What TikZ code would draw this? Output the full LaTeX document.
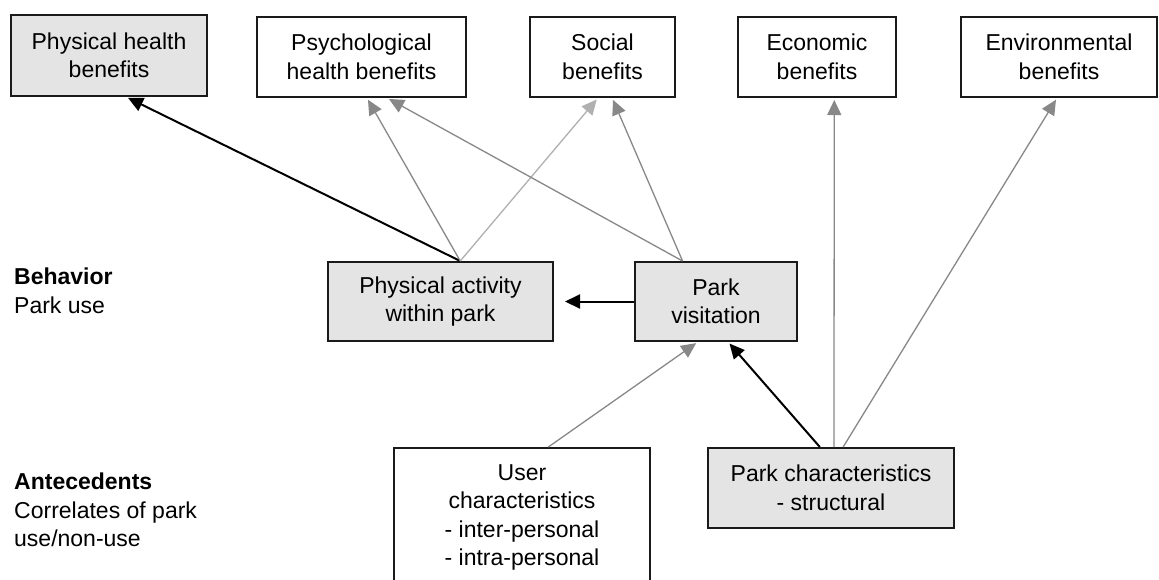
\documentclass[tikz,border=0pt]{standalone}
\usepackage{fontspec}
\setmainfont{Liberation Sans}
\usetikzlibrary{arrows.meta,calc}
\definecolor{boxfill}{HTML}{E4E4E4}
\definecolor{boxline}{HTML}{1A1A1A}
\definecolor{midgray}{HTML}{888888}
\definecolor{lightgray}{HTML}{B0B0B0}
\tikzset{
  txt/.style={font=\fontsize{23}{28.5}\selectfont},
  benefit/.style={txt, draw=boxline, line width=2pt, align=center, inner sep=0pt},
  shaded/.style={benefit, fill=boxfill},
  plain/.style={benefit, fill=white},
  label/.style={txt, align=left, anchor=west, inner sep=0pt},
  strong/.style={draw=black, line width=2pt, -{Triangle[length=15pt,width=14pt]}, shorten >=2pt},
  soft/.style={draw=midgray, line width=1.3pt, -{Triangle[length=15pt,width=14pt]}, shorten >=2pt},
  faint/.style={draw=lightgray, line width=1.3pt, -{Triangle[length=15pt,width=14pt]}, shorten >=2pt}
}
\begin{document}
\begin{tikzpicture}[x=1pt,y=-1pt]
\useasboundingbox[fill=white] (0,0) rectangle (1159,579);
\clip (0,0) rectangle (1159,579);

% top row
\node[shaded, minimum width=196pt, minimum height=81pt] (ph) at (109,55.5) {Physical health\\benefits};
\node[plain, minimum width=209pt, minimum height=80pt] (psy) at (361.5,57) {Psychological\\health benefits};
\node[plain, minimum width=145pt, minimum height=80pt] (soc) at (602.5,57) {Social\\benefits};
\node[plain, minimum width=158pt, minimum height=80pt] (eco) at (817,57) {Economic\\benefits};
\node[plain, minimum width=196pt, minimum height=80pt] (env) at (1059,57) {Environmental\\benefits};

% behavior row
\node[shaded, minimum width=225pt, minimum height=79pt] (pa) at (440.5,301.5) {Physical activity\\within park};
\node[shaded, minimum width=162pt, minimum height=79pt] (pv) at (716,301.5) {Park\\visitation};

% antecedents row
\node[plain, minimum width=256pt, minimum height=139pt] (uc) at (522,517.5) {User\\characteristics\\- inter-personal\\- intra-personal};
\node[shaded, minimum width=246pt, minimum height=80pt] (pc) at (831,488) {Park characteristics\\- structural};

% side labels
\node[label] (beh) at (14,291) {\textbf{Behavior}\\Park use};
\node[label] (ant) at (14,510) {\textbf{Antecedents}\\Correlates of park\\use/non-use};

% connectors
\coordinate (paTop) at ($(pa.north west)!0.587!(pa.north east)$);
\coordinate (pvTop) at ($(pv.north west)!0.296!(pv.north east)$);

\draw[strong] (paTop) -- ($(ph.south west)!0.587!(ph.south east)$);
\draw[soft] (paTop) -- ($(psy.south west)!0.526!(psy.south east)$);
\draw[faint] (paTop) -- ($(soc.south west)!0.469!(soc.south east)$);
\draw[soft] (pvTop) -- ($(psy.south west)!0.622!(psy.south east)$);
\draw[soft] (pvTop) -- ($(soc.south west)!0.566!(soc.south east)$);

\draw[strong, shorten >=11pt] (pv.west) -- (pa.east);

\draw[soft] ($(uc.north west)!0.602!(uc.north east)$) -- ($(pv.south west)!0.389!(pv.south east)$);
\draw[strong] ($(pc.north west)!0.455!(pc.north east)$) -- ($(pv.south west)!0.574!(pv.south east)$);
\draw[soft] ($(pc.north west)!0.512!(pc.north east)$) -- ($(eco.south west)!0.608!(eco.south east)$);
\draw[soft] ($(pc.north west)!0.549!(pc.north east)$) -- ($(env.south west)!0.49!(env.south east)$);
\end{tikzpicture}
\end{document}
